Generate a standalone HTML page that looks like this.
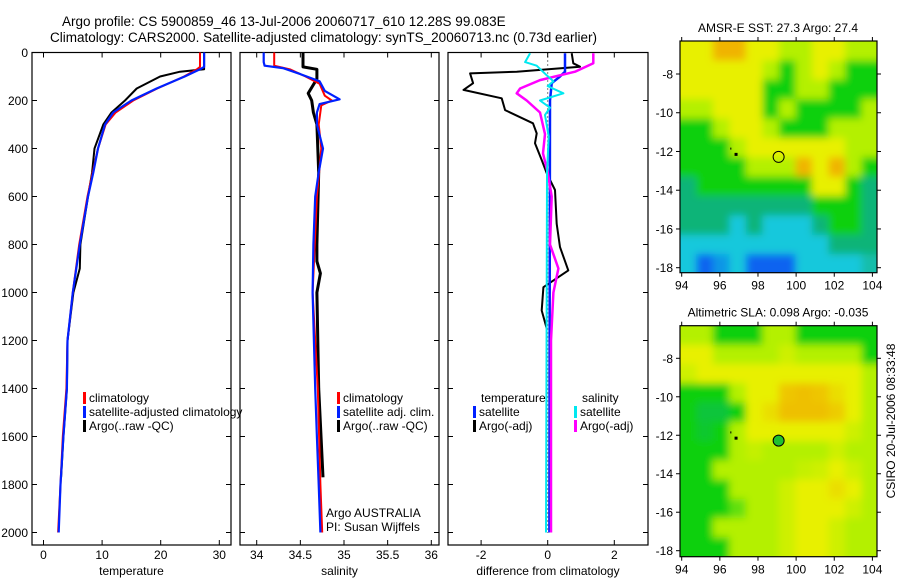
<!DOCTYPE html>
<html><head><meta charset="utf-8">
<style>
body{margin:0;background:#fff;}
svg{display:block;font-family:"Liberation Sans",sans-serif;}
text{fill:#000;}
</style></head>
<body>
<svg id="fig" width="900" height="580" viewBox="0 0 900 580" xmlns="http://www.w3.org/2000/svg">
<defs>
<filter id="blur" x="0" y="0" width="1" height="1"><feGaussianBlur stdDeviation="4"/></filter>
<clipPath id="clip-sst"><rect x="680" y="41" width="197" height="231.7"/></clipPath>
<clipPath id="clip-sla"><rect x="680" y="325.7" width="197" height="231"/></clipPath>
</defs>
<text x="62" y="26" font-size="13.5">Argo profile: CS 5900859_46 13-Jul-2006 20060717_610 12.28S 99.083E</text>
<text x="50" y="42" font-size="13.5">Climatology: CARS2000. Satellite-adjusted climatology: synTS_20060713.nc (0.73d earlier)</text>
<g id="plots"></g>
</svg>
<script>
// ---- data ----
const tDepth = [0,60,70,100,150,200,250,300,400,500,600,800,1000,1200,1400,1600,1800,2000];
const tClim  = [26.7,26.7,26.2,24.0,19.4,15.3,12.3,10.6,9.3,8.4,7.5,6.1,5.0,4.1,3.9,3.3,2.9,2.5];
const tSat   = [27.4,27.4,26.7,24.1,19.3,15.0,11.9,10.5,9.3,8.5,7.6,6.2,5.0,4.1,4.0,3.4,2.9,2.6];
const tArgoDepth = [0,70,80,100,150,200,250,300,400,500,600,800,900,1000,1200,1400,1600,1770];
const tArgo  = [27.4,27.4,23.3,19.9,15.9,13.9,11.6,10.2,8.7,8.3,7.6,6.3,6.2,5.1,4.1,4.0,3.4,3.0];

const sDepth = [0,40,55,65,90,120,160,195,215,250,300,400,500,600,800,1000,1400,1600,1800,2000];
const sSat   = [34.08,34.08,34.09,34.30,34.50,34.72,34.78,34.95,34.72,34.69,34.69,34.76,34.71,34.67,34.65,34.64,34.67,34.69,34.71,34.73];
const sClimDepth = [0,40,55,70,100,130,180,200,220,300,400,600,1000,1400,1800,2000];
const sClim  = [34.2,34.2,34.2,34.38,34.56,34.72,34.78,34.86,34.74,34.71,34.74,34.69,34.64,34.70,34.73,34.75];
const sArgoDepth = [0,60,70,110,170,200,250,300,500,800,870,920,1000,1400,1770];
const sArgo  = [34.53,34.53,34.69,34.69,34.59,34.63,34.65,34.69,34.71,34.69,34.69,34.73,34.69,34.71,34.76];

const dTArgoDepth = [3,45,59,80,87,128,156,191,240,295,337,378,448,503,573,714,811,908,978,1075,1150];
const dTArgo = [0.72,0.77,0.97,-0.93,-2.33,-2.24,-2.53,-1.38,-1.28,-0.44,-0.33,-0.38,-0.18,-0.03,0.22,0.27,0.37,0.62,-0.13,-0.18,-0.03];
const dTSatDepth = [3,80,100,128,200,1000,2000];
const dTSat  = [0.52,0.52,0.37,0.12,0.07,0.06,0.05];
const dSArgoDepth = [3,45,80,115,150,170,200,250,340,420,500,600,800,900,1000,1200,2000];
const dSArgo = [1.37,1.37,0.82,-0.23,-0.83,-0.93,-0.63,-0.23,-0.08,-0.14,0.0,0.12,0.07,0.32,0.17,0.10,0.10];
const dSSatDepth = [3,40,55,95,120,140,170,200,230,260,350,500,1000,2000];
const dSSat  = [-0.53,-0.68,-0.33,-0.03,0.17,0.0,0.47,-0.23,0.07,-0.08,0.03,-0.02,-0.03,-0.05];

const depthTicks = [0,200,400,600,800,1000,1200,1400,1600,1800,2000];
const tempTicks = [0,10,20,30];
const salTicks = [34,34.5,35,35.5,36];
const diffTicks = [-2,0,2];
const lonTicks = [94,96,98,100,102,104];
const latTicks = [-8,-10,-12,-14,-16,-18];

// map cell values (0 blue .. 6 orange), rows north->south
const sstGrid = [
[5,5,6,6,5,5,4,4,5,5,4,4],
[5,5,5,5,5,4,3,4,5,4,3,3],
[5,5,5,5,5,3,3,4,4,3,3,3],
[4,4,5,5,5,3,4,3,3,3,3,4],
[3,3,4,5,5,4,3,3,3,4,4,4],
[3,3,3,4,5,5,5,5,5,5,4,4],
[3,3,3,3,4,4,4,6,5,6,4,3],
[2,3,3,3,3,3,3,3,5,5,3,2],
[2,2,2,2,2,2,2,2,3,3,3,2],
[2,2,2,1,2,1,1,1,2,3,3,2],
[1,1,1,1,1,1,1,1,1,2,2,2],
[1,0,0.5,1,0,0,0,1,1,1,1,1.5]];
const slaGrid = [
[4,4,3,3,3,4,4,3,3,3,3,3],
[5,5,4,4,4,4,4.5,4,4,4,4,3],
[4.5,5,5,5,5,5,5,5,5,5,5,4],
[3,3,3,4,5,5,5.7,5.8,5.7,5.3,5,4],
[3,2.6,2.6,3,5,5.3,5.8,5.8,5.8,5.6,5,4],
[3,2.7,3,4,5,5,5,5,5,5,4.5,4],
[3,3,3,4,4.3,4,4,4,4,4.5,4,4],
[3,3,4,4,4,4,4,4.3,4.5,5,4.5,4],
[3,3,3,4,4,4,4.5,5,5,5.3,5,4],
[3,3,3,3.5,4,4,4.5,5,5,5,4.5,4],
[3,3,4,4,4,4,4.5,5,5,4.5,4,4],
[3,3,3,4,4,4,4.5,5,5,4.5,4,4]];
const mapLon = [93.9,104.3];
const mapLat = [-6.3,-18.3];

// ---- drawing ----
const NS='http://www.w3.org/2000/svg';
const root=document.getElementById('plots');
function el(tag,attrs,parent){const e=document.createElementNS(NS,tag);for(const k in attrs)e.setAttribute(k,attrs[k]);(parent||root).appendChild(e);return e;}
function txt(s,x,y,size,anchor,parent){const t=el('text',{x:x,y:y,'font-size':size,'text-anchor':anchor||'start'},parent);t.textContent=s;return t;}

const yDepth=d=>52.5+d*0.24;
const pTop=52.5,pBot=545;

function panel(name,x0,x1,xs,ticks,fmt,label,showY){
  const g=el('g',{});
  
  
  const r=el('rect',{x:x0,y:pTop,width:x1-x0,height:pBot-pTop,fill:'none',stroke:'#000','stroke-width':1.2},g);
  
  
  depthTicks.forEach(d=>{const y=yDepth(d);
    el('line',{x1:x0,x2:x0+5,y1:y,y2:y,stroke:'#000'},g);
    el('line',{x1:x1-5,x2:x1,y1:y,y2:y,stroke:'#000'},g);
    if(showY){const t=txt(String(d),28,y+4.5,12,'end',g);
      
      }
  });
  ticks.forEach(v=>{const x=xs(v);
    el('line',{x1:x,x2:x,y1:pBot,y2:pBot-5,stroke:'#000'},g);
    el('line',{x1:x,x2:x,y1:pTop,y2:pTop+5,stroke:'#000'},g);
    const t=txt(fmt(v),x,559,12,'middle',g);
    
    
  });
  const t=txt(label,(x0+x1)/2,575,12,'middle',g);
  
  
  return g;
}
function line(g,xs,vals,depths,color,w,name){
  const pts=vals.map((v,i)=>xs(v).toFixed(1)+','+yDepth(depths[i]).toFixed(1)).join(' ');
  const p=el('polyline',{points:pts,fill:'none',stroke:color,'stroke-width':w,'stroke-linejoin':'round'},g);
  
  
}
function legend(g,x,y,color,label,name){
  const b=el('rect',{x:x,y:y-10,width:3,height:12,fill:color},g);
  
  
  const t=txt(label,x+6,y,12,'start',g);
  
  
}

// panel 1 temperature
const xT=v=>43.5+v*5.86;
const g1=panel('temperature',32,231,xT,tempTicks,String,'temperature',true);
line(g1,xT,tArgo,tArgoDepth,'#000',2,'argo-temperature-line');
line(g1,xT,tClim,tDepth,'#f00',2,'climatology-temperature-line');
line(g1,xT,tSat,tDepth,'#0020ff',2.2,'satellite-temperature-line');
legend(g1,83,402,'#f00','climatology','legend-climatology');
legend(g1,83,416,'#0020ff','satellite-adjusted climatology','legend-satellite-adjusted');
legend(g1,83,430,'#000','Argo(..raw -QC)','legend-argo');

// panel 2 salinity
const xS=v=>256.7+(v-34)*87.3;
const g2=panel('salinity',240,439,xS,salTicks,v=>String(v),'salinity',false);
line(g2,xS,sArgo,sArgoDepth,'#000',3,'argo-salinity-line');
line(g2,xS,sClim,sClimDepth,'#f00',2,'climatology-salinity-line');
line(g2,xS,sSat,sDepth,'#0020ff',2.2,'satellite-salinity-line');
legend(g2,337,402,'#f00','climatology','legend-sal-climatology');
legend(g2,337,416,'#0020ff','satellite adj. clim.','legend-sal-satellite');
legend(g2,337,430,'#000','Argo(..raw -QC)','legend-sal-argo');
let a=txt('Argo AUSTRALIA',326,517,12,'start',g2);

a=txt('PI: Susan Wijffels',326,531,12,'start',g2);


// panel 3 differences
const xD=v=>547.7+v*33.3;
const g3=panel('difference',448,648,xD,diffTicks,String,'difference from climatology',false);
const z=el('line',{x1:xD(0),x2:xD(0),y1:pTop,y2:pBot-12,stroke:'#000','stroke-dasharray':'1,3'},g3);

line(g3,xD,dTArgo,dTArgoDepth,'#000',2,'argo-temp-diff-line');
line(g3,xD,dTSat,dTSatDepth,'#0020ff',2.5,'satellite-temp-diff-line');
line(g3,xD,dSArgo,dSArgoDepth,'#ff00ff',2.5,'argo-sal-diff-line');
line(g3,xD,dSSat,dSSatDepth,'#00e8f0',2,'satellite-sal-diff-line');
a=txt('temperature',481,402,12,'start',g3);
a=txt('salinity',582,402,12,'start',g3);
legend(g3,473,416,'#0020ff','satellite','legend-temp-satellite');
legend(g3,473,430,'#000','Argo(-adj)','legend-temp-argo');
legend(g3,574,416,'#00e8f0','satellite','legend-sal-satellite-diff');
legend(g3,574,430,'#ff00ff','Argo(-adj)','legend-sal-argo-diff');

// maps
const stops=[[10,100,240],[20,200,220],[16,180,120],[16,208,16],[180,240,0],[232,240,0],[240,180,0]];
function col(v){const i=Math.max(0,Math.min(5,Math.floor(v)));const f=Math.min(1,v-i);const a=stops[i],b=stops[i+1];
  return 'rgb('+a.map((c,k)=>Math.round(c+(b[k]-c)*f)).join(',')+')';}
function map(name,grid,yTop,yBot,latA,latB,title,circleFill){
  const x0=680,x1=877;
  const g=el('g',{});
  
  
  const xL=lon=>681.7+(lon-94)*19.07;
  const yL=lat=>latA+(-8-lat)*latB;
  const rows=grid.length,cols=grid[0].length;
  const dLon=(mapLon[1]-mapLon[0])/cols,dLat=(mapLat[0]-mapLat[1])/rows;
  const clip=el('g',{'clip-path':'url(#clip-'+name+')'},g);
  const cells=el('g',{filter:'url(#blur)'},clip);
  grid.forEach((row,r)=>row.forEach((v,c)=>{
    const xa=xL(mapLon[0]+c*dLon),xb=xL(mapLon[0]+(c+1)*dLon);
    const ya=yL(mapLat[0]-r*dLat),yb=yL(mapLat[0]-(r+1)*dLat);
    const ex=(c===0?-10:0),ex2=(c===cols-1?10:0),ey=(r===0?-10:0),ey2=(r===rows-1?10:0);
    const rc=el('rect',{x:xa+ex,y:ya+ey,width:xb-xa+0.5-ex+ex2,height:yb-ya+0.5-ey+ey2,fill:col(v)},cells);
    
    
  }));
  const fr=el('rect',{x:x0,y:yTop,width:x1-x0,height:yBot-yTop,fill:'none',stroke:'#000','stroke-width':1.2},g);
  
  lonTicks.forEach(l=>{const x=xL(l);el('line',{x1:x,x2:x,y1:yTop-4,y2:yTop,stroke:'#000'},g);el('line',{x1:x,x2:x,y1:yBot,y2:yBot+4,stroke:'#000'},g);
    const t=txt(String(l),x,yBot+17,12,'middle',g);});
  latTicks.forEach(l=>{const y=yL(l);el('line',{x1:x0-4,x2:x0,y1:y,y2:y,stroke:'#000'},g);el('line',{x1:x1,x2:x1+4,y1:y,y2:y,stroke:'#000'},g);
    const t=txt(String(l),673,y+4.5,12,'end',g);});
  const t=txt(title,778,yTop-9,12,'middle',g);
  const cx=xL(99.083),cy=yL(-12.28);
  const c=el('circle',{cx:cx,cy:cy,r:5.5,fill:circleFill,stroke:'#000','stroke-width':1},g);
  
  const d=el('rect',{x:xL(96.85)-1.5,y:yL(-12.15)-1.5,width:3,height:3,fill:'#000'},g);
  
  el('rect',{x:xL(96.55),y:yL(-11.8),width:1,height:2,fill:'#000'},g);
}
map('sst',sstGrid,41,272.7,74,19.37,'AMSR-E SST: 27.3 Argo: 27.4','none');
map('sla',slaGrid,325.7,556.7,358.3,19.24,'Altimetric SLA: 0.098 Argo: -0.035','#20c030');
const cs=txt('CSIRO 20-Jul-2006 08:33:48',0,0,12,'middle');
cs.setAttribute('transform','translate(895,421) rotate(-90)');


</script>
</body></html>
